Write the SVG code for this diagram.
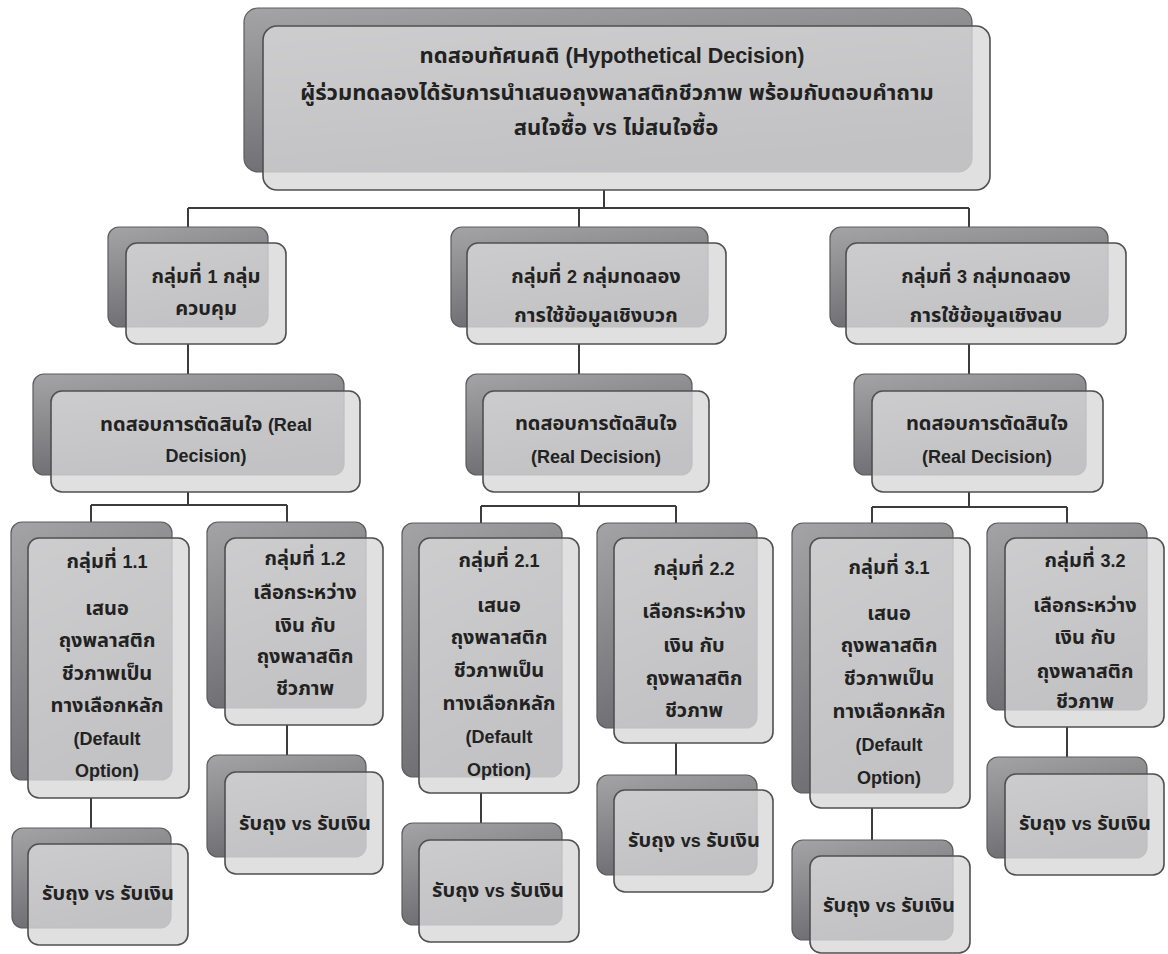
<svg xmlns="http://www.w3.org/2000/svg" width="1168" height="954" viewBox="0 0 1168 954">
<defs>
<linearGradient id="bk" x1="0" y1="0" x2="0.35" y2="1">
<stop offset="0" stop-color="#a4a4a6"/>
<stop offset="1" stop-color="#6c6c70"/>
</linearGradient>
<style>
.bk{fill:url(#bk);stroke:#5c5c5e;stroke-width:1.2}
.fr{fill:#d8d8da;fill-opacity:0.8;stroke:#505052;stroke-width:1.6}
.t{font-family:'Liberation Sans','Noto Sans Thai','Noto Sans','DejaVu Sans',sans-serif;font-weight:bold;font-size:20px;fill:#222;text-anchor:middle}
.l{font-size:18px}
.tt{font-size:22px}
.tt .l{font-size:21.5px}
.cn{fill:none;stroke:#3c3c3c;stroke-width:2}
</style>
</defs>
<rect width="1168" height="954" fill="#fff"/>
<g id="connectors" class="cn">
<path d="M604 190V208M188 208H969M188 208V227M579 208V227M969 208V227"/>
<path d="M188 344V374M579 344V374M969 344V374"/>
<path d="M188 492V505M91 505H287M91 505V522M287 505V522"/>
<path d="M579 492V506M481 506H676M481 506V523M676 506V523"/>
<path d="M969 492V507M872 507H1067M872 507V523M1067 507V523"/>
<path d="M91 798V828M287 725V755M481 793V823M676 743V775M872 808V840M1067 727V757"/>
</g>
<g id="n-top">
<rect class="bk" x="244" y="8" width="728" height="164" rx="14"/>
<rect class="fr" x="263" y="26" width="727" height="164" rx="14"/>
<text class="t tt" x="612" y="63">ทดสอบทัศนคติ <tspan class="l">(Hypothetical Decision)</tspan></text>
<text class="t tt" x="617" y="100">ผู้ร่วมทดลองได้รับการนำเสนอถุงพลาสติกชีวภาพ พร้อมกับตอบคำถาม</text>
<text class="t tt" x="616" y="135">สนใจซื้อ <tspan class="l">vs</tspan> ไม่สนใจซื้อ</text>
</g>
<g id="n-g1">
<rect class="bk" x="108" y="227" width="160" height="100" rx="11"/>
<rect class="fr" x="126" y="243" width="160" height="101" rx="11"/>
<text class="t" x="206" y="283">กลุ่มที่ <tspan class="l">1</tspan> กลุ่ม</text>
<text class="t" x="206" y="315">ควบคุม</text>
</g>
<g id="n-g2">
<rect class="bk" x="451" y="227" width="257" height="100" rx="11"/>
<rect class="fr" x="467" y="243" width="259" height="101" rx="11"/>
<text class="t" x="596" y="283">กลุ่มที่ <tspan class="l">2</tspan> กลุ่มทดลอง</text>
<text class="t" x="596" y="322">การใช้ข้อมูลเชิงบวก</text>
</g>
<g id="n-g3">
<rect class="bk" x="830" y="227" width="278" height="100" rx="11"/>
<rect class="fr" x="846" y="243" width="280" height="101" rx="11"/>
<text class="t" x="986" y="283">กลุ่มที่ <tspan class="l">3</tspan> กลุ่มทดลอง</text>
<text class="t" x="986" y="322">การใช้ข้อมูลเชิงลบ</text>
</g>
<g id="n-d1">
<rect class="bk" x="33" y="374" width="311" height="101" rx="11"/>
<rect class="fr" x="51" y="391" width="309" height="101" rx="11"/>
<text class="t" x="206" y="431">ทดสอบการตัดสินใจ <tspan class="l">(Real</tspan></text>
<text class="t" x="206" y="462"><tspan class="l">Decision)</tspan></text>
</g>
<g id="n-d2">
<rect class="bk" x="466" y="374" width="226" height="101" rx="11"/>
<rect class="fr" x="483" y="391" width="226" height="101" rx="11"/>
<text class="t" x="596" y="430">ทดสอบการตัดสินใจ</text>
<text class="t" x="596" y="463"><tspan class="l">(Real Decision)</tspan></text>
</g>
<g id="n-d3">
<rect class="bk" x="854" y="374" width="232" height="101" rx="11"/>
<rect class="fr" x="872" y="391" width="231" height="101" rx="11"/>
<text class="t" x="987" y="430">ทดสอบการตัดสินใจ</text>
<text class="t" x="987" y="463"><tspan class="l">(Real Decision)</tspan></text>
</g>
<g id="n-11">
<rect class="bk" x="11" y="522" width="161" height="258" rx="11"/>
<rect class="fr" x="28" y="538" width="161" height="260" rx="11"/>
<text class="t" x="107" y="568">กลุ่มที่ <tspan class="l">1.1</tspan></text>
<text class="t" x="107" y="615">เสนอ</text>
<text class="t" x="107" y="647">ถุงพลาสติก</text>
<text class="t" x="107" y="680">ชีวภาพเป็น</text>
<text class="t" x="107" y="712">ทางเลือกหลัก</text>
<text class="t" x="107" y="745"><tspan class="l">(Default</tspan></text>
<text class="t" x="107" y="777"><tspan class="l">Option)</tspan></text>
</g>
<g id="n-12">
<rect class="bk" x="207" y="522" width="159" height="186" rx="11"/>
<rect class="fr" x="225" y="538" width="158" height="187" rx="11"/>
<text class="t" x="305" y="565">กลุ่มที่ <tspan class="l">1.2</tspan></text>
<text class="t" x="305" y="599">เลือกระหว่าง</text>
<text class="t" x="305" y="632">เงิน กับ</text>
<text class="t" x="305" y="663">ถุงพลาสติก</text>
<text class="t" x="305" y="695">ชีวภาพ</text>
</g>
<g id="n-11r">
<rect class="bk" x="12" y="828" width="159" height="100" rx="11"/>
<rect class="fr" x="28" y="844" width="160" height="101" rx="11"/>
<text class="t" x="108" y="900">รับถุง <tspan class="l">vs</tspan> รับเงิน</text>
</g>
<g id="n-12r">
<rect class="bk" x="207" y="755" width="159" height="102" rx="11"/>
<rect class="fr" x="225" y="772" width="158" height="102" rx="11"/>
<text class="t" x="305" y="830">รับถุง <tspan class="l">vs</tspan> รับเงิน</text>
</g>
<g id="n-21">
<rect class="bk" x="402" y="523" width="160" height="254" rx="11"/>
<rect class="fr" x="419" y="538" width="160" height="255" rx="11"/>
<text class="t" x="499" y="567">กลุ่มที่ <tspan class="l">2.1</tspan></text>
<text class="t" x="499" y="612">เสนอ</text>
<text class="t" x="499" y="644">ถุงพลาสติก</text>
<text class="t" x="499" y="677">ชีวภาพเป็น</text>
<text class="t" x="499" y="710">ทางเลือกหลัก</text>
<text class="t" x="499" y="743"><tspan class="l">(Default</tspan></text>
<text class="t" x="499" y="776"><tspan class="l">Option)</tspan></text>
</g>
<g id="n-22">
<rect class="bk" x="597" y="523" width="160" height="205" rx="11"/>
<rect class="fr" x="614" y="538" width="159" height="205" rx="11"/>
<text class="t" x="694" y="575">กลุ่มที่ <tspan class="l">2.2</tspan></text>
<text class="t" x="694" y="618">เลือกระหว่าง</text>
<text class="t" x="694" y="652">เงิน กับ</text>
<text class="t" x="694" y="685">ถุงพลาสติก</text>
<text class="t" x="694" y="717">ชีวภาพ</text>
</g>
<g id="n-21r">
<rect class="bk" x="402" y="823" width="160" height="102" rx="11"/>
<rect class="fr" x="419" y="840" width="160" height="102" rx="11"/>
<text class="t" x="498" y="897">รับถุง <tspan class="l">vs</tspan> รับเงิน</text>
</g>
<g id="n-22r">
<rect class="bk" x="597" y="775" width="160" height="100" rx="11"/>
<rect class="fr" x="614" y="790" width="159" height="102" rx="11"/>
<text class="t" x="694" y="847">รับถุง <tspan class="l">vs</tspan> รับเงิน</text>
</g>
<g id="n-31">
<rect class="bk" x="792" y="523" width="161" height="270" rx="11"/>
<rect class="fr" x="810" y="538" width="160" height="270" rx="11"/>
<text class="t" x="889" y="574">กลุ่มที่ <tspan class="l">3.1</tspan></text>
<text class="t" x="889" y="620">เสนอ</text>
<text class="t" x="889" y="652">ถุงพลาสติก</text>
<text class="t" x="889" y="685">ชีวภาพเป็น</text>
<text class="t" x="889" y="718">ทางเลือกหลัก</text>
<text class="t" x="889" y="751"><tspan class="l">(Default</tspan></text>
<text class="t" x="889" y="784"><tspan class="l">Option)</tspan></text>
</g>
<g id="n-32">
<rect class="bk" x="987" y="523" width="160" height="187" rx="11"/>
<rect class="fr" x="1005" y="538" width="159" height="189" rx="11"/>
<text class="t" x="1085" y="567">กลุ่มที่ <tspan class="l">3.2</tspan></text>
<text class="t" x="1085" y="612">เลือกระหว่าง</text>
<text class="t" x="1085" y="644">เงิน กับ</text>
<text class="t" x="1085" y="678">ถุงพลาสติก</text>
<text class="t" x="1085" y="708">ชีวภาพ</text>
</g>
<g id="n-31r">
<rect class="bk" x="792" y="840" width="161" height="100" rx="11"/>
<rect class="fr" x="810" y="856" width="160" height="97" rx="11"/>
<text class="t" x="889" y="912">รับถุง <tspan class="l">vs</tspan> รับเงิน</text>
</g>
<g id="n-32r">
<rect class="bk" x="987" y="757" width="160" height="101" rx="11"/>
<rect class="fr" x="1005" y="774" width="159" height="101" rx="11"/>
<text class="t" x="1085" y="830">รับถุง <tspan class="l">vs</tspan> รับเงิน</text>
</g>
</svg>
